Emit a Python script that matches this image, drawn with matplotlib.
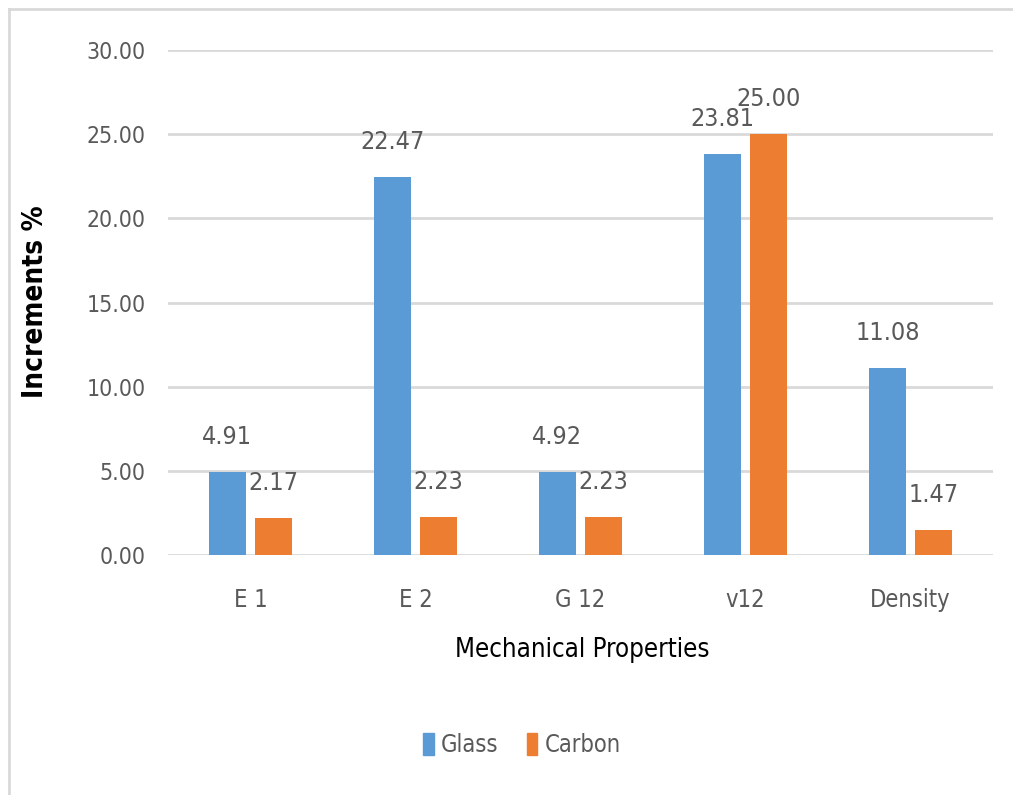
import numpy as np
import matplotlib.pyplot as plt
from matplotlib.lines import Line2D
from matplotlib.patches import Patch

# data
categories = ['E 1', 'E 2', 'G 12', 'v12', 'Density']
glass = [4.91, 22.47, 4.92, 23.81, 11.08]
carbon = [2.17, 2.23, 2.23, 25.00, 1.47]
y_ticks = [0, 5, 10, 15, 20, 25, 30]

blue = '#5B9BD5'
orange = '#ED7D31'
grey_text = '#595959'
grid_col = '#D9D9D9'

plt.rcParams['font.family'] = ['DejaVu Sans']
plt.rcParams['font.stretch'] = 'condensed'

fig = plt.figure(figsize=(10.13, 7.95), dpi=100)
ax = fig.add_axes([168 / 1013, 1 - 555 / 795, 825 / 1013, 505 / 795])

x = np.arange(len(categories))
w = 0.22
off = 0.14
b1 = ax.bar(x - off, glass, w, color=blue, label='Glass', zorder=3)
b2 = ax.bar(x + off, carbon, w, color=orange, label='Carbon', zorder=3)

# data labels sit a fixed distance above the bar tops
for bars, vals in [(b1, glass), (b2, carbon)]:
    for r, v in zip(bars, vals):
        ax.annotate(f'{v:.2f}', (r.get_x() + r.get_width() / 2, v),
                    xytext=(0, 35), textcoords='offset pixels',
                    ha='center', va='center', fontsize=18, color=grey_text)

ax.set_xlim(-0.5, len(categories) - 0.5)
ax.set_ylim(0, 30)
ax.set_yticks(y_ticks)
ax.set_yticklabels([f'{t:.2f}' for t in y_ticks])
ax.set_xticks(x)
ax.set_xticklabels(categories)
ax.tick_params(axis='y', length=0, pad=16, labelsize=16.5, labelcolor=grey_text)
ax.tick_params(axis='x', length=0, pad=24, labelsize=17, labelcolor=grey_text)
ax.grid(axis='y', color=grid_col, linewidth=2, zorder=0)
for s in ax.spines.values():
    s.set_visible(False)

fig.text(35 / 1013, 1 - 302 / 795, 'Increments %', rotation=90, ha='center',
         va='center', fontsize=20, color='black', fontweight='bold')
fig.text(582 / 1013, 1 - 650 / 795, 'Mechanical Properties', ha='center',
         va='center', fontsize=18.5, color='black')

handles = [Patch(color=blue), Patch(color=orange)]
fig.legend(handles, ['Glass', 'Carbon'], loc='center', bbox_to_anchor=(522 / 1013, 1 - 745 / 795),
           ncol=2, frameon=False, fontsize=17, handlelength=0.45, handleheight=1.1,
           handletextpad=0.3, columnspacing=1.2, labelcolor=grey_text)

# outer chart frame (left and top edges visible)
fig.add_artist(Line2D([9 / 1013, 9 / 1013], [0, 1 - 9 / 795], color=grid_col, linewidth=2))
fig.add_artist(Line2D([9 / 1013, 1], [1 - 9 / 795, 1 - 9 / 795], color=grid_col, linewidth=2))

fig.savefig('out.png', dpi=100)
